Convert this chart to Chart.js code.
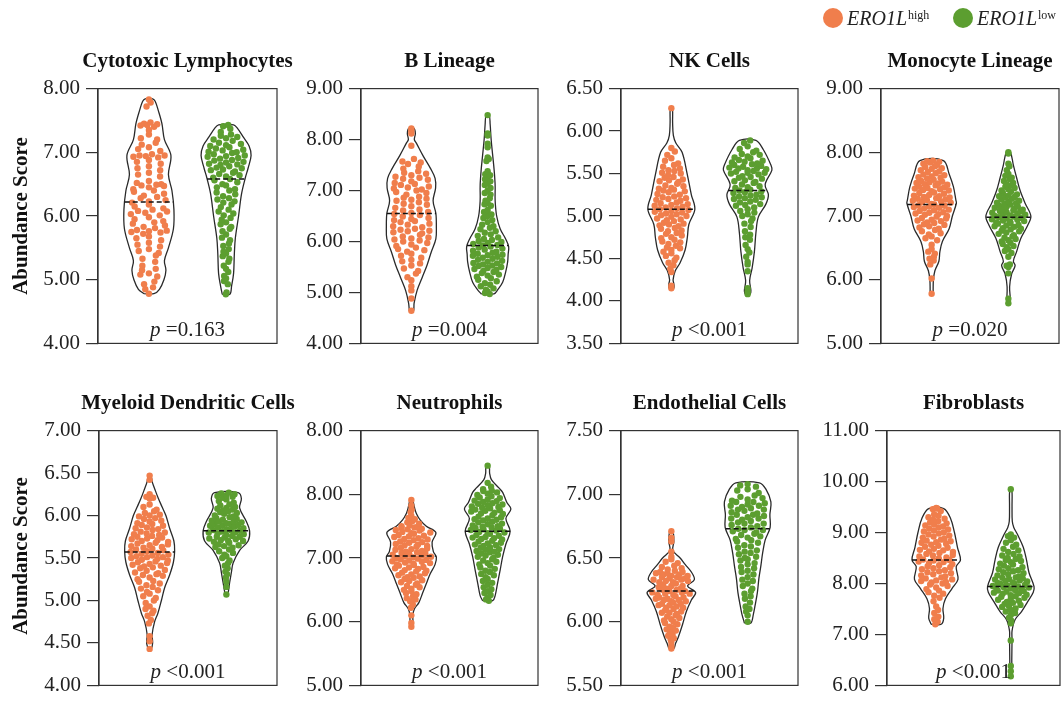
<!DOCTYPE html>
<html>
<head>
<meta charset="utf-8">
<script src="https://cdn.jsdelivr.net/npm/chart.js@4.4.1/dist/chart.umd.min.js"></script>
<style>
  body { margin: 0; width: 1064px; height: 706px; background: #fff; position: relative; overflow: hidden;
         font-family: 'Liberation Serif', 'Times New Roman', serif; color: #111; }
  canvas { position: absolute; }
  .title { position: absolute; font-weight: bold; font-size: 21px; white-space: nowrap; transform: translate(-50%, -50%); }
  .pval { position: absolute; font-size: 21px; white-space: nowrap; transform: translate(-50%, -50%); color: #222; }
  .ytitle { position: absolute; font-weight: bold; font-size: 21px; white-space: nowrap; transform: translate(-50%, -50%) rotate(-90deg); }
  .leg { position: absolute; top: 0; height: 36px; display: flex; align-items: center; font-size: 20px; color: #222; }
  .leg .dot { width: 20px; height: 20px; border-radius: 50%; display: inline-block; margin-right: 4px; }
  .leg sup { font-size: 12px; font-style: normal; position: relative; top: -3px; margin-left: 1px; }
</style>
</head>
<body>
<script>
// ---- data ----
const titles = ['Cytotoxic Lymphocytes', 'B Lineage', 'NK Cells', 'Monocyte Lineage',
  'Myeloid Dendritic Cells', 'Neutrophils', 'Endothelial Cells', 'Fibroblasts'];
const pValues = ['=0.163', '=0.004', '<0.001', '=0.020', '<0.001', '<0.001', '<0.001', '<0.001'];
const groupNames = ['high', 'low'];
const yMin = [4, 4, 3.5, 5, 4, 5, 5.5, 6];
const yMax = [8, 9, 6.5, 9, 7, 9, 7.5, 11];
const yStep = [1, 1, 0.5, 1, 0.5, 1, 0.5, 1];
const tickLabels = [
  ['4.00', '5.00', '6.00', '7.00', '8.00'],
  ['4.00', '5.00', '6.00', '7.00', '8.00', '9.00'],
  ['3.50', '4.00', '4.50', '5.00', '5.50', '6.00', '6.50'],
  ['5.00', '6.00', '7.00', '8.00', '9.00'],
  ['4.00', '4.50', '5.00', '5.50', '6.00', '6.50', '7.00'],
  ['5.00', '6.00', '7.00', '8.00', '8.00'],
  ['5.50', '6.00', '6.50', '7.00', '7.50'],
  ['6.00', '7.00', '8.00', '9.00', '10.00', '11.00']
];
const medianHigh = [6.22, 6.55, 5.08, 7.18, 5.57, 7.03, 6.24, 8.46];
const medianLow = [6.58, 5.92, 5.30, 6.98, 5.82, 7.42, 6.73, 7.94];

// violin outline: levels and relative half widths
const highShapeY = [
  [4.78, 4.85, 5.0, 5.15, 5.3, 5.5, 5.8, 6.1, 6.4, 6.65, 6.95, 7.2, 7.45, 7.65, 7.8, 7.84],
  [4.63, 4.79, 5.04, 5.29, 5.54, 5.8, 6.05, 6.3, 6.55, 6.8, 7.05, 7.24, 7.43, 7.68, 7.93, 8.0, 8.12, 8.22],
  [4.15, 4.2, 4.25, 4.35, 4.45, 4.6, 4.75, 4.9, 5.08, 5.25, 5.5, 5.75, 5.86, 5.95, 6.1, 6.27],
  [5.78, 5.84, 5.99, 6.14, 6.29, 6.44, 6.6, 6.8, 7.0, 7.2, 7.25, 7.46, 7.66, 7.87],
  [4.43, 4.5, 4.6, 4.75, 4.85, 5.0, 5.15, 5.3, 5.45, 5.58, 5.7, 5.85, 6.0, 6.1, 6.2, 6.3, 6.4, 6.47],
  [5.9, 6.1, 6.2, 6.3, 6.45, 6.6, 6.75, 6.9, 7.02, 7.1, 7.25, 7.4, 7.5, 7.6, 7.7, 7.8, 7.91],
  [5.79, 5.83, 5.88, 5.98, 6.08, 6.17, 6.23, 6.28, 6.33, 6.39, 6.45, 6.5, 6.56, 6.63, 6.71],
  [7.2, 7.32, 7.51, 7.7, 7.9, 8.08, 8.33, 8.46, 8.71, 9.0, 9.28, 9.47]
];
const highShapeW = [
  [0.2, 0.42, 0.6, 0.68, 0.62, 0.78, 0.98, 1.0, 0.92, 0.78, 0.88, 0.62, 0.52, 0.38, 0.25, 0.15],
  [0.08, 0.11, 0.23, 0.43, 0.63, 0.8, 0.98, 1.0, 0.98, 0.87, 0.97, 0.95, 0.77, 0.47, 0.2, 0.12, 0.16, 0.1],
  [0.1, 0.1, 0.07, 0.15, 0.35, 0.55, 0.64, 0.7, 0.94, 0.8, 0.63, 0.43, 0.18, 0.08, 0.05, 0.04],
  [0.06, 0.06, 0.07, 0.13, 0.29, 0.33, 0.43, 0.7, 0.83, 0.99, 0.97, 0.87, 0.7, 0.47],
  [0.06, 0.12, 0.1, 0.2, 0.33, 0.47, 0.6, 0.8, 0.95, 1.0, 0.97, 0.8, 0.65, 0.5, 0.35, 0.22, 0.1, 0.05],
  [0.06, 0.06, 0.12, 0.3, 0.45, 0.6, 0.75, 0.95, 1.0, 0.88, 0.83, 0.98, 0.6, 0.35, 0.2, 0.12, 0.05],
  [0.1, 0.17, 0.28, 0.45, 0.6, 0.8, 0.97, 0.65, 0.92, 0.8, 0.55, 0.35, 0.06, 0.1, 0.06],
  [0.2, 0.3, 0.27, 0.37, 0.63, 0.87, 0.8, 0.97, 0.85, 0.73, 0.57, 0.3]
];
const lowShapeY = [
  [4.77, 4.9, 5.1, 5.4, 5.65, 6.0, 6.35, 6.6, 6.75, 6.95, 7.1, 7.25, 7.38, 7.43],
  [4.97, 5.05, 5.2, 5.4, 5.6, 5.75, 5.9, 6.05, 6.25, 6.5, 6.8, 7.1, 7.4, 7.7, 8.0, 8.3, 8.48],
  [4.08, 4.12, 4.24, 4.39, 4.58, 4.8, 4.99, 5.14, 5.25, 5.37, 5.54, 5.6, 5.78, 5.89],
  [5.63, 5.89, 6.09, 6.22, 6.29, 6.44, 6.65, 6.85, 7.0, 7.2, 7.4, 7.6, 7.8, 8.0],
  [5.07, 5.21, 5.33, 5.44, 5.59, 5.7, 5.82, 5.93, 6.09, 6.2, 6.27],
  [6.33, 6.41, 6.61, 6.81, 7.02, 7.22, 7.42, 7.62, 7.77, 7.87, 8.03, 8.1, 8.23, 8.33, 8.45],
  [5.99, 6.06, 6.13, 6.23, 6.34, 6.44, 6.54, 6.64, 6.74, 6.84, 6.94, 7.04, 7.09],
  [6.18, 6.5, 6.9, 7.07, 7.29, 7.45, 7.64, 7.83, 7.94, 8.21, 8.46, 8.71, 8.96, 9.1, 9.22, 9.5, 9.85]
];
const lowShapeW = [
  [0.15, 0.22, 0.3, 0.33, 0.37, 0.5, 0.62, 0.77, 0.88, 1.0, 0.92, 0.67, 0.45, 0.3],
  [0.25, 0.4, 0.6, 0.72, 0.8, 0.82, 0.84, 0.72, 0.5, 0.36, 0.3, 0.3, 0.26, 0.2, 0.14, 0.1, 0.06],
  [0.1, 0.13, 0.08, 0.18, 0.27, 0.33, 0.43, 0.73, 0.83, 0.7, 0.97, 0.93, 0.63, 0.33],
  [0.07, 0.05, 0.13, 0.27, 0.2, 0.33, 0.5, 0.77, 0.9, 0.67, 0.47, 0.33, 0.2, 0.08],
  [0.05, 0.13, 0.2, 0.27, 0.53, 0.87, 0.93, 0.8, 0.53, 0.6, 0.47],
  [0.2, 0.3, 0.4, 0.5, 0.6, 0.73, 0.9, 0.73, 0.93, 0.77, 0.6, 0.45, 0.15, 0.08, 0.06],
  [0.13, 0.23, 0.3, 0.39, 0.45, 0.53, 0.6, 0.7, 0.9, 0.89, 0.93, 0.73, 0.47],
  [0.04, 0.04, 0.05, 0.05, 0.17, 0.43, 0.67, 0.9, 0.93, 0.73, 0.63, 0.5, 0.27, 0.12, 0.06, 0.05, 0.04]
];

// abundance scores per sample
const highValues = [
  [7.83,7.78,7.72,7.47,7.45,7.44,7.43,7.42,7.40,7.35,7.28,7.22,7.20,7.15,7.12,7.08,7.05,7.02,6.97,6.95,6.95,6.94,6.93,6.92,6.88,6.85,6.82,6.78,6.75,6.72,6.68,6.65,6.62,6.55,6.52,6.50,6.49,6.48,6.47,6.45,6.42,6.40,6.38,6.35,6.32,6.30,6.28,6.25,6.23,6.21,6.18,6.15,6.12,6.10,6.08,6.07,6.05,6.03,6.01,5.98,5.95,5.92,5.90,5.88,5.85,5.83,5.81,5.78,5.77,5.76,5.75,5.74,5.72,5.68,5.65,5.62,5.58,5.55,5.52,5.48,5.45,5.42,5.38,5.33,5.28,5.22,5.17,5.15,5.10,5.08,5.05,4.97,4.93,4.88,4.85,4.78],
  [8.22,8.18,8.12,7.88,7.62,7.57,7.55,7.52,7.47,7.43,7.38,7.35,7.33,7.30,7.27,7.25,7.23,7.21,7.18,7.15,7.13,7.11,7.08,7.06,7.04,7.02,7.00,6.97,6.95,6.92,6.88,6.86,6.84,6.82,6.80,6.77,6.74,6.72,6.69,6.66,6.63,6.61,6.58,6.56,6.54,6.52,6.49,6.46,6.44,6.42,6.40,6.38,6.35,6.33,6.30,6.28,6.25,6.23,6.21,6.20,6.18,6.16,6.13,6.10,6.08,6.06,6.04,6.02,6.00,5.97,5.94,5.91,5.88,5.85,5.83,5.80,5.76,5.72,5.68,5.64,5.61,5.57,5.53,5.47,5.42,5.37,5.30,5.24,5.12,5.04,4.88,4.64],
  [6.27,5.80,5.76,5.72,5.68,5.65,5.62,5.60,5.58,5.56,5.54,5.53,5.51,5.50,5.48,5.46,5.45,5.43,5.42,5.41,5.40,5.38,5.36,5.35,5.33,5.32,5.31,5.30,5.29,5.28,5.26,5.25,5.23,5.22,5.21,5.20,5.19,5.18,5.16,5.15,5.14,5.13,5.12,5.11,5.10,5.09,5.08,5.07,5.06,5.05,5.04,5.03,5.02,5.01,5.00,4.99,4.97,4.96,4.95,4.94,4.92,4.91,4.90,4.89,4.88,4.86,4.85,4.83,4.82,4.80,4.79,4.77,4.75,4.74,4.72,4.70,4.69,4.67,4.65,4.63,4.62,4.60,4.58,4.56,4.53,4.51,4.48,4.45,4.42,4.38,4.34,4.18,4.15],
  [7.87,7.86,7.85,7.84,7.82,7.80,7.78,7.77,7.75,7.74,7.72,7.70,7.69,7.67,7.65,7.64,7.62,7.61,7.60,7.59,7.57,7.55,7.54,7.53,7.52,7.51,7.50,7.49,7.48,7.46,7.45,7.44,7.43,7.42,7.41,7.40,7.39,7.37,7.36,7.35,7.33,7.32,7.31,7.30,7.29,7.28,7.27,7.26,7.25,7.24,7.23,7.22,7.21,7.19,7.18,7.17,7.16,7.15,7.14,7.13,7.12,7.10,7.09,7.08,7.06,7.05,7.04,7.03,7.02,7.00,6.99,6.97,6.96,6.94,6.93,6.92,6.90,6.89,6.87,6.86,6.84,6.82,6.80,6.78,6.76,6.73,6.71,6.68,6.65,6.62,6.55,6.48,6.44,6.41,6.36,6.33,6.30,6.24,6.02,5.78],
  [6.47,6.42,6.25,6.22,6.21,6.20,6.13,6.10,6.07,6.05,6.03,6.01,6.00,5.99,5.97,5.96,5.94,5.93,5.91,5.90,5.89,5.88,5.86,5.85,5.84,5.83,5.81,5.80,5.79,5.78,5.77,5.76,5.75,5.74,5.73,5.72,5.71,5.70,5.69,5.68,5.67,5.66,5.65,5.64,5.63,5.62,5.61,5.60,5.59,5.58,5.57,5.56,5.55,5.54,5.53,5.52,5.51,5.51,5.50,5.49,5.48,5.47,5.46,5.45,5.44,5.43,5.42,5.41,5.40,5.39,5.38,5.36,5.35,5.33,5.32,5.31,5.30,5.29,5.27,5.25,5.23,5.22,5.20,5.18,5.16,5.14,5.12,5.10,5.08,5.05,5.03,5.00,4.97,4.93,4.90,4.88,4.85,4.82,4.77,4.73,4.58,4.52,4.43],
  [7.91,7.82,7.76,7.72,7.66,7.63,7.61,7.58,7.56,7.54,7.52,7.50,7.49,7.48,7.47,7.46,7.45,7.44,7.43,7.41,7.40,7.39,7.38,7.36,7.35,7.34,7.33,7.31,7.30,7.29,7.28,7.26,7.25,7.24,7.22,7.21,7.20,7.19,7.18,7.16,7.15,7.14,7.13,7.11,7.10,7.09,7.08,7.07,7.06,7.05,7.04,7.03,7.02,7.01,7.00,6.99,6.98,6.97,6.96,6.95,6.94,6.93,6.92,6.91,6.90,6.89,6.88,6.86,6.85,6.84,6.83,6.81,6.80,6.79,6.77,6.76,6.74,6.73,6.71,6.70,6.69,6.67,6.65,6.64,6.62,6.60,6.58,6.56,6.54,6.52,6.50,6.48,6.45,6.43,6.40,6.37,6.35,6.32,6.27,6.22,6.10,5.98,5.92],
  [6.71,6.66,6.63,6.55,6.51,6.49,6.47,6.46,6.44,6.43,6.42,6.41,6.40,6.39,6.39,6.38,6.38,6.37,6.37,6.36,6.36,6.35,6.35,6.34,6.34,6.33,6.33,6.32,6.32,6.31,6.31,6.30,6.29,6.28,6.28,6.27,6.26,6.26,6.25,6.25,6.24,6.24,6.23,6.23,6.22,6.22,6.21,6.21,6.20,6.19,6.19,6.18,6.18,6.17,6.17,6.16,6.16,6.15,6.14,6.14,6.13,6.13,6.12,6.11,6.11,6.10,6.09,6.08,6.07,6.07,6.06,6.05,6.04,6.03,6.02,6.01,6.00,5.99,5.98,5.96,5.95,5.94,5.93,5.92,5.90,5.89,5.87,5.86,5.84,5.81,5.79],
  [9.48,9.47,9.46,9.42,9.36,9.33,9.30,9.27,9.25,9.22,9.20,9.18,9.16,9.14,9.12,9.10,9.08,9.06,9.04,9.02,9.00,8.98,8.96,8.94,8.92,8.90,8.88,8.86,8.84,8.83,8.81,8.80,8.78,8.76,8.74,8.72,8.70,8.68,8.66,8.65,8.63,8.62,8.60,8.58,8.56,8.55,8.53,8.51,8.49,8.47,8.46,8.45,8.43,8.42,8.40,8.38,8.36,8.34,8.32,8.30,8.28,8.26,8.24,8.22,8.20,8.18,8.16,8.14,8.12,8.10,8.08,8.06,8.05,8.03,8.02,8.00,7.98,7.95,7.92,7.89,7.86,7.83,7.80,7.76,7.72,7.65,7.55,7.48,7.42,7.35,7.30,7.25,7.20]
];
const lowValues = [
  [7.43,7.41,7.37,7.32,7.28,7.26,7.24,7.22,7.20,7.18,7.15,7.13,7.11,7.10,7.08,7.06,7.04,7.03,7.01,7.00,6.99,6.97,6.95,6.94,6.93,6.91,6.90,6.88,6.87,6.85,6.84,6.82,6.81,6.80,6.78,6.76,6.75,6.73,6.72,6.70,6.68,6.66,6.64,6.62,6.60,6.58,6.56,6.53,6.50,6.48,6.45,6.42,6.40,6.37,6.34,6.31,6.28,6.26,6.23,6.21,6.18,6.14,6.10,6.07,6.04,6.01,5.97,5.94,5.90,5.87,5.83,5.80,5.76,5.71,5.66,5.62,5.57,5.53,5.48,5.44,5.41,5.37,5.33,5.28,5.22,5.17,5.12,5.06,5.02,4.98,4.93,4.80,4.77],
  [8.48,8.12,8.08,7.92,7.85,7.65,7.62,7.58,7.38,7.32,7.30,7.26,7.22,7.18,7.14,7.11,7.05,7.00,6.95,6.92,6.85,6.80,6.75,6.73,6.70,6.62,6.58,6.53,6.50,6.46,6.42,6.38,6.33,6.30,6.27,6.24,6.20,6.17,6.14,6.11,6.08,6.05,6.03,6.01,5.99,5.97,5.95,5.93,5.92,5.90,5.88,5.86,5.84,5.82,5.80,5.78,5.76,5.74,5.73,5.72,5.70,5.68,5.66,5.64,5.62,5.60,5.58,5.57,5.55,5.53,5.52,5.50,5.48,5.46,5.44,5.42,5.40,5.38,5.35,5.33,5.31,5.28,5.25,5.22,5.18,5.15,5.12,5.08,5.05,5.02,4.99,4.97],
  [5.89,5.86,5.82,5.79,5.77,5.75,5.73,5.72,5.70,5.69,5.68,5.66,5.65,5.64,5.63,5.62,5.61,5.60,5.59,5.58,5.57,5.56,5.56,5.55,5.54,5.53,5.52,5.51,5.51,5.50,5.49,5.47,5.46,5.45,5.44,5.42,5.41,5.40,5.39,5.37,5.35,5.34,5.33,5.31,5.30,5.29,5.28,5.27,5.25,5.24,5.23,5.22,5.21,5.20,5.19,5.17,5.16,5.14,5.13,5.12,5.10,5.08,5.06,5.04,5.02,5.00,4.97,4.94,4.91,4.87,4.82,4.78,4.75,4.72,4.66,4.61,4.57,4.52,4.46,4.43,4.35,4.15,4.11,4.08],
  [8.00,7.98,7.82,7.78,7.72,7.66,7.63,7.60,7.58,7.55,7.52,7.50,7.48,7.46,7.44,7.42,7.40,7.38,7.36,7.34,7.32,7.31,7.30,7.29,7.27,7.26,7.24,7.23,7.21,7.20,7.19,7.18,7.16,7.15,7.14,7.13,7.12,7.11,7.10,7.09,7.08,7.07,7.06,7.05,7.04,7.03,7.02,7.01,7.00,6.99,6.98,6.97,6.96,6.95,6.94,6.93,6.92,6.91,6.90,6.89,6.88,6.86,6.85,6.84,6.83,6.81,6.80,6.79,6.77,6.76,6.74,6.72,6.70,6.68,6.66,6.64,6.62,6.60,6.58,6.56,6.53,6.51,6.48,6.45,6.42,6.36,6.24,6.22,6.20,6.10,5.70,5.63],
  [6.27,6.26,6.25,6.24,6.23,6.22,6.21,6.19,6.17,6.15,6.13,6.12,6.10,6.09,6.08,6.07,6.06,6.05,6.04,6.03,6.02,6.00,5.99,5.98,5.97,5.96,5.95,5.94,5.93,5.93,5.92,5.91,5.90,5.90,5.89,5.88,5.88,5.87,5.86,5.85,5.84,5.83,5.83,5.82,5.81,5.80,5.80,5.79,5.78,5.77,5.76,5.75,5.75,5.74,5.73,5.72,5.71,5.70,5.70,5.69,5.68,5.66,5.65,5.64,5.63,5.62,5.60,5.58,5.56,5.54,5.52,5.50,5.47,5.44,5.41,5.38,5.34,5.31,5.27,5.22,5.16,5.07],
  [8.45,8.18,8.12,8.08,8.06,8.05,8.03,8.01,7.99,7.97,7.95,7.94,7.92,7.90,7.89,7.88,7.86,7.85,7.84,7.83,7.81,7.80,7.79,7.78,7.76,7.75,7.74,7.73,7.71,7.70,7.69,7.67,7.65,7.64,7.62,7.61,7.60,7.59,7.57,7.56,7.54,7.53,7.51,7.50,7.49,7.48,7.47,7.46,7.45,7.44,7.43,7.41,7.40,7.39,7.38,7.36,7.35,7.33,7.32,7.31,7.30,7.29,7.27,7.26,7.24,7.23,7.21,7.20,7.19,7.17,7.16,7.14,7.13,7.11,7.10,7.09,7.07,7.05,7.04,7.02,7.00,6.98,6.96,6.94,6.92,6.90,6.88,6.85,6.83,6.80,6.78,6.75,6.73,6.70,6.67,6.64,6.61,6.58,6.54,6.51,6.48,6.45,6.42,6.38,6.35,6.33],
  [7.08,7.07,7.06,7.04,7.03,7.01,6.99,6.98,6.97,6.96,6.95,6.94,6.94,6.93,6.92,6.91,6.91,6.90,6.89,6.88,6.88,6.87,6.86,6.85,6.84,6.84,6.83,6.82,6.81,6.81,6.80,6.79,6.78,6.77,6.77,6.76,6.75,6.74,6.73,6.72,6.72,6.71,6.70,6.69,6.68,6.67,6.66,6.65,6.64,6.63,6.62,6.60,6.59,6.58,6.56,6.55,6.54,6.53,6.51,6.50,6.49,6.48,6.46,6.45,6.43,6.42,6.40,6.39,6.37,6.35,6.33,6.32,6.30,6.28,6.26,6.24,6.22,6.20,6.18,6.15,6.12,6.10,6.08,6.05,6.00],
  [9.85,8.96,8.93,8.90,8.85,8.80,8.76,8.72,8.68,8.65,8.62,8.58,8.55,8.53,8.50,8.48,8.46,8.44,8.42,8.39,8.37,8.35,8.32,8.30,8.28,8.26,8.24,8.22,8.20,8.18,8.16,8.14,8.12,8.11,8.10,8.09,8.08,8.06,8.05,8.04,8.02,8.01,8.00,7.99,7.97,7.96,7.95,7.94,7.93,7.92,7.90,7.89,7.88,7.87,7.86,7.85,7.84,7.82,7.81,7.80,7.78,7.77,7.75,7.74,7.72,7.70,7.68,7.66,7.64,7.62,7.60,7.58,7.56,7.54,7.51,7.48,7.45,7.42,7.38,7.33,7.27,7.22,6.88,6.38,6.28,6.18]
];

// ---- layout ----
const boxLeft = [98, 361, 621, 881, 99, 361, 621, 887];
const boxRight = [277, 538, 798, 1059, 277, 538, 798, 1060];
const boxTop = [84, 426];
const boxBottom = [348, 690];
const titleY = [60, 402];
const colors = ['#F07E4C', '#5C9E30'];
const X_MIN = -0.66, X_MAX = 1.66;
const HALF_PX = 25, DOT_R = 3.2, PAD = 14, AXIS_W = 70;

function widthAt(ys, ws, y) {
  if (y <= ys[0]) return ws[0];
  for (let k = 1; k < ys.length; k++) {
    if (y <= ys[k]) {
      const t = (y - ys[k - 1]) / (ys[k] - ys[k - 1]);
      return ws[k - 1] + t * (ws[k] - ws[k - 1]);
    }
  }
  return ws[ws.length - 1];
}

function outline(center, ys, ws, halfU) {
  const right = ys.map((y, k) => ({ x: center + ws[k] * halfU, y }));
  const left = ys.map((y, k) => ({ x: center - ws[k] * halfU, y })).reverse();
  return [left[left.length - 1], ...right, ...left];
}

// spread the dots across the violin width, row by row
function spread(values, center, ys, ws, halfU, rU, binU) {
  const bins = {};
  values.forEach(v => {
    const b = Math.floor(v / binU);
    (bins[b] = bins[b] || []).push(v);
  });
  const pts = [];
  Object.values(bins).forEach(list => {
    const k = list.length;
    const order = list.map((v, j) => ({ v, key: ((j + 1) * 0.6180339887) % 1 }))
      .sort((a, b) => a.key - b.key);
    order.forEach((o, s) => {
      const w = Math.max(0, widthAt(ys, ws, o.v) * halfU - rU);
      pts.push({ x: center + (-1 + (2 * s + 1) / k) * w, y: o.v });
    });
  });
  return pts;
}

const boxPlugin = {
  id: 'box',
  afterDraw(chart) {
    const { ctx, chartArea: a } = chart;
    ctx.save();
    ctx.strokeStyle = '#333';
    ctx.lineWidth = 1.2;
    ctx.strokeRect(a.left, a.top, a.right - a.left, a.bottom - a.top);
    ctx.restore();
  }
};

function addText(cls, html, x, y) {
  const d = document.createElement('div');
  d.className = cls;
  d.innerHTML = html;
  d.style.left = x + 'px';
  d.style.top = y + 'px';
  document.body.appendChild(d);
}

titles.forEach((title, i) => {
  const row = i < 4 ? 0 : 1;
  const left = boxLeft[i] - AXIS_W;
  const top = boxTop[row] - PAD;
  const w = boxRight[i] - left + 4;
  const h = boxBottom[row] - boxTop[row] + 2 * PAD;
  const canvas = document.createElement('canvas');
  canvas.width = w; canvas.height = h;
  canvas.style.left = left + 'px'; canvas.style.top = top + 'px';
  canvas.style.width = w + 'px'; canvas.style.height = h + 'px';
  document.body.appendChild(canvas);

  const pxX = (boxRight[i] - boxLeft[i]) / (X_MAX - X_MIN);
  const pxY = (boxBottom[row] - boxTop[row]) / (yMax[i] - yMin[i]);
  const halfU = HALF_PX / pxX, rU = DOT_R / pxX, binU = 6.5 / pxY;

  const shapes = [[highShapeY[i], highShapeW[i]], [lowShapeY[i], lowShapeW[i]]];
  const values = [highValues[i], lowValues[i]];
  const medians = [medianHigh[i], medianLow[i]];
  const datasets = [];
  shapes.forEach(([ys, ws], g) => {
    const mw = widthAt(ys, ws, medians[g]) * halfU;
    datasets.push({
      label: groupNames[g] + ' median', order: 0, showLine: true, pointRadius: 0,
      borderColor: '#111', borderWidth: 1.5, borderDash: [5, 3],
      data: [{ x: g - mw, y: medians[g] }, { x: g + mw, y: medians[g] }]
    });
    datasets.push({
      label: groupNames[g], order: 1, pointRadius: DOT_R, pointBorderWidth: 0,
      pointBackgroundColor: colors[g], backgroundColor: colors[g],
      data: spread(values[g], g, ys, ws, halfU, rU, binU)
    });
    datasets.push({
      label: groupNames[g] + ' violin', order: 2, showLine: true, pointRadius: 0,
      borderColor: '#2a2a2a', borderWidth: 1.3, tension: 0.35, fill: false,
      data: outline(g, ys, ws, halfU)
    });
  });

  new Chart(canvas, {
    type: 'scatter',
    data: { datasets },
    options: {
      responsive: false,
      animation: false,
      devicePixelRatio: 1,
      layout: { padding: { top: PAD, bottom: PAD, left: 0, right: 4 } },
      plugins: { legend: { display: false }, tooltip: { enabled: false } },
      scales: {
        x: { type: 'linear', display: false, min: X_MIN, max: X_MAX },
        y: {
          min: yMin[i], max: yMax[i],
          afterFit: s => { s.width = AXIS_W; },
          ticks: {
            stepSize: yStep[i], padding: 6, color: '#222', autoSkip: false,
            font: { family: "'Liberation Serif', 'Times New Roman', serif", size: 21 },
            callback: (v, idx) => tickLabels[i][idx]
          },
          grid: { drawOnChartArea: false, tickLength: 12, color: '#333', lineWidth: 1.2 },
          border: { color: '#333', width: 1.2 }
        }
      }
    },
    plugins: [boxPlugin]
  });

  const cx = (boxLeft[i] + boxRight[i]) / 2;
  addText('title', title, cx, titleY[row]);
  addText('pval', '<i>p</i> ' + pValues[i].replace('<', '&lt;'), cx, boxBottom[row] - 19);
});

addText('ytitle', 'Abundance Score', 20, 216);
addText('ytitle', 'Abundance Score', 20, 556);

// legend
[823, 953].forEach((x, g) => {
  const d = document.createElement('div');
  d.className = 'leg';
  d.style.left = x + 'px';
  d.innerHTML = '<span class="dot" style="background:' + colors[g] + '"></span><i>ERO1L</i><sup>' + groupNames[g] + '</sup>';
  document.body.appendChild(d);
});
</script>
</body>
</html>
